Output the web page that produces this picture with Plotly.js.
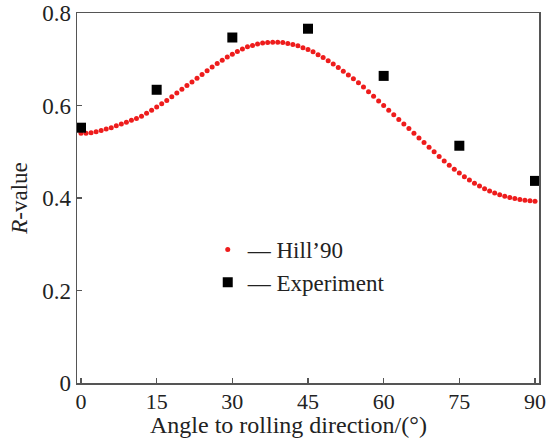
<!DOCTYPE html>
<html>
<head>
<meta charset="utf-8">
<script src="https://cdn.plot.ly/plotly-3.0.1.min.js"></script>
<style>html,body{margin:0;padding:0;background:#fff;}#chart{width:547px;height:439px;}</style>
</head>
<body>
<div id="chart"></div>
<script>
// Hill'90 predicted R-value, one point per degree (0..90)
const hillAngles = [
  0,1,2,3,4,5,6,7,8,9,10,11,12,13,14,15,16,17,18,19,20,
  21,22,23,24,25,26,27,28,29,30,31,32,33,34,35,36,37,38,39,40,
  41,42,43,44,45,46,47,48,49,50,51,52,53,54,55,56,57,58,59,60,
  61,62,63,64,65,66,67,68,69,70,71,72,73,74,75,76,77,78,79,80,
  81,82,83,84,85,86,87,88,89,90
];
const hillR = [
  0.540,0.540,0.541,0.543,0.546,0.549,0.552,0.556,0.560,0.564,0.568,
  0.572,0.577,0.583,0.590,0.597,0.604,0.611,0.619,0.627,0.635,
  0.643,0.651,0.659,0.667,0.675,0.683,0.691,0.698,0.705,0.711,
  0.717,0.722,0.727,0.730,0.733,0.735,0.736,0.737,0.737,0.736,
  0.734,0.732,0.729,0.725,0.721,0.716,0.710,0.704,0.697,0.690,
  0.682,0.674,0.666,0.658,0.649,0.640,0.630,0.620,0.610,0.600,
  0.590,0.580,0.570,0.560,0.550,0.540,0.530,0.520,0.510,0.500,
  0.490,0.480,0.471,0.462,0.454,0.446,0.439,0.432,0.426,0.420,
  0.415,0.411,0.407,0.404,0.401,0.399,0.397,0.395,0.394,0.393
];
// Experimental R-values
const expAngles = [0, 15, 30, 45, 60, 75, 90];
const expR = [0.552, 0.634, 0.747, 0.766, 0.664, 0.513, 0.437];

const xTicks = [0, 15, 30, 45, 60, 75, 90];
const yTicks = [0, 0.2, 0.4, 0.6, 0.8];
const yTickText = ['0', '0.2', '0.4', '0.6', '0.8'];
const xTitle = 'Angle to rolling direction/(\u00b0)';
const yTitle = '<i>R</i>-value';

const FONT = '"Liberation Serif", "Times New Roman", serif';

const traces = [
  {
    x: hillAngles, y: hillR, type: 'scatter', mode: 'markers',
    name: '\u2014 Hill\u201990',
    marker: {color: '#ee1c1c', size: 5, symbol: 'circle'},
    cliponaxis: false
  },
  {
    x: expAngles, y: expR, type: 'scatter', mode: 'markers',
    name: '\u2014 Experiment',
    marker: {color: '#000000', size: 10, symbol: 'square'},
    cliponaxis: false
  }
];

const axisCommon = {
  showgrid: false, zeroline: false,
  showline: true, linecolor: '#555', linewidth: 1.5, mirror: true,
  ticks: 'inside', ticklen: 5, tickwidth: 1.2, tickcolor: '#555',
  tickfont: {family: FONT, size: 23, color: '#222'}
};

const layout = {
  width: 547, height: 439,
  margin: {l: 77, r: 8, t: 13, b: 56},
  paper_bgcolor: '#fff', plot_bgcolor: '#fff',
  font: {family: FONT, size: 23, color: '#222'},
  showlegend: true,
  legend: {
    x: 0.283, y: 0.419, xanchor: 'left', yanchor: 'top',
    bgcolor: 'rgba(0,0,0,0)', borderwidth: 0,
    font: {family: FONT, size: 23, color: '#222'},
    itemwidth: 30, tracegroupgap: 0
  },
  xaxis: Object.assign({}, axisCommon, {
    range: [-0.79, 90.79],
    tickvals: xTicks,
    ticktext: xTicks.map(String),
    tickfont: {family: FONT, size: 22, color: '#222'},
    ticklabelstandoff: -2
  }),
  yaxis: Object.assign({}, axisCommon, {
    range: [0, 0.8],
    tickvals: yTicks,
    ticktext: yTickText,
    title: {text: yTitle, font: {family: FONT, size: 23, color: '#222'}, standoff: 8}
  }),
  annotations: [
    {
      text: xTitle, xref: 'paper', yref: 'paper',
      x: 0.457, y: -0.1514, xanchor: 'center', yanchor: 'bottom',
      showarrow: false, font: {family: FONT, size: 24, color: '#222'},
      borderpad: 0
    }
  ]
};

Plotly.newPlot('chart', traces, layout, {displayModeBar: false, staticPlot: true});
</script>
</body>
</html>
